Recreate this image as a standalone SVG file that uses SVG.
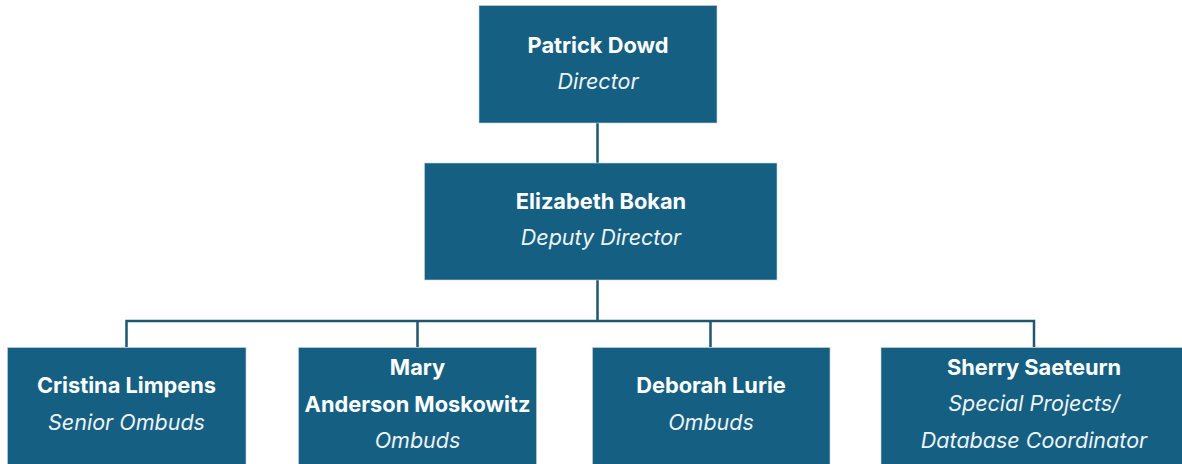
<svg xmlns="http://www.w3.org/2000/svg" width="1182" height="464" viewBox="0 0 1182 464">
<style>
.box{fill:#156082;stroke:#c9d6de;stroke-width:0.6}
.n{font-family:Inter,"Noto Sans",sans-serif;font-size:21.8px;font-weight:700;fill:#ffffff;text-anchor:middle}
.t{font-family:Inter,"Noto Sans",sans-serif;font-size:21.5px;font-style:italic;fill:#eef3f6;text-anchor:middle}
.c{fill:none;stroke:#1e5670;stroke-width:2.5}
</style>
<rect width="1182" height="464" fill="#ffffff"/>
<g id="connectors">
<path class="c" d="M597.5 123V163"/>
<path class="c" d="M597.5 280V321"/>
<path class="c" d="M126.5 347V321H1034V347"/>
<path class="c" d="M417.5 321V347"/>
<path class="c" d="M710.5 321V347"/>
</g>
<g id="patrick">
<rect class="box" x="479" y="5.5" width="238" height="117.5"/>
<text class="n" x="598" y="53">Patrick Dowd</text>
<text class="t" x="598" y="89">Director</text>
</g>
<g id="elizabeth">
<rect class="box" x="424.5" y="163" width="352.5" height="117"/>
<text class="n" x="601" y="209">Elizabeth Bokan</text>
<text class="t" x="601" y="245">Deputy Director</text>
</g>
<g id="cristina">
<rect class="box" x="7.5" y="347.5" width="238.5" height="130"/>
<text class="n" x="126.5" y="393">Cristina Limpens</text>
<text class="t" x="126.5" y="430">Senior Ombuds</text>
</g>
<g id="mary">
<rect class="box" x="298.5" y="347.5" width="238" height="130"/>
<text class="n" x="417.5" y="375">Mary</text>
<text class="n" x="417.5" y="412">Anderson Moskowitz</text>
<text class="t" x="417.5" y="448">Ombuds</text>
</g>
<g id="deborah">
<rect class="box" x="592.5" y="347.5" width="237.5" height="130"/>
<text class="n" x="711" y="393">Deborah Lurie</text>
<text class="t" x="711" y="430">Ombuds</text>
</g>
<g id="sherry">
<rect class="box" x="881" y="347.5" width="305" height="130"/>
<text class="n" x="1034" y="375">Sherry Saeteurn</text>
<text class="t" x="1034" y="411">Special Projects/</text>
<text class="t" x="1034" y="448">Database Coordinator</text>
</g>
</svg>
